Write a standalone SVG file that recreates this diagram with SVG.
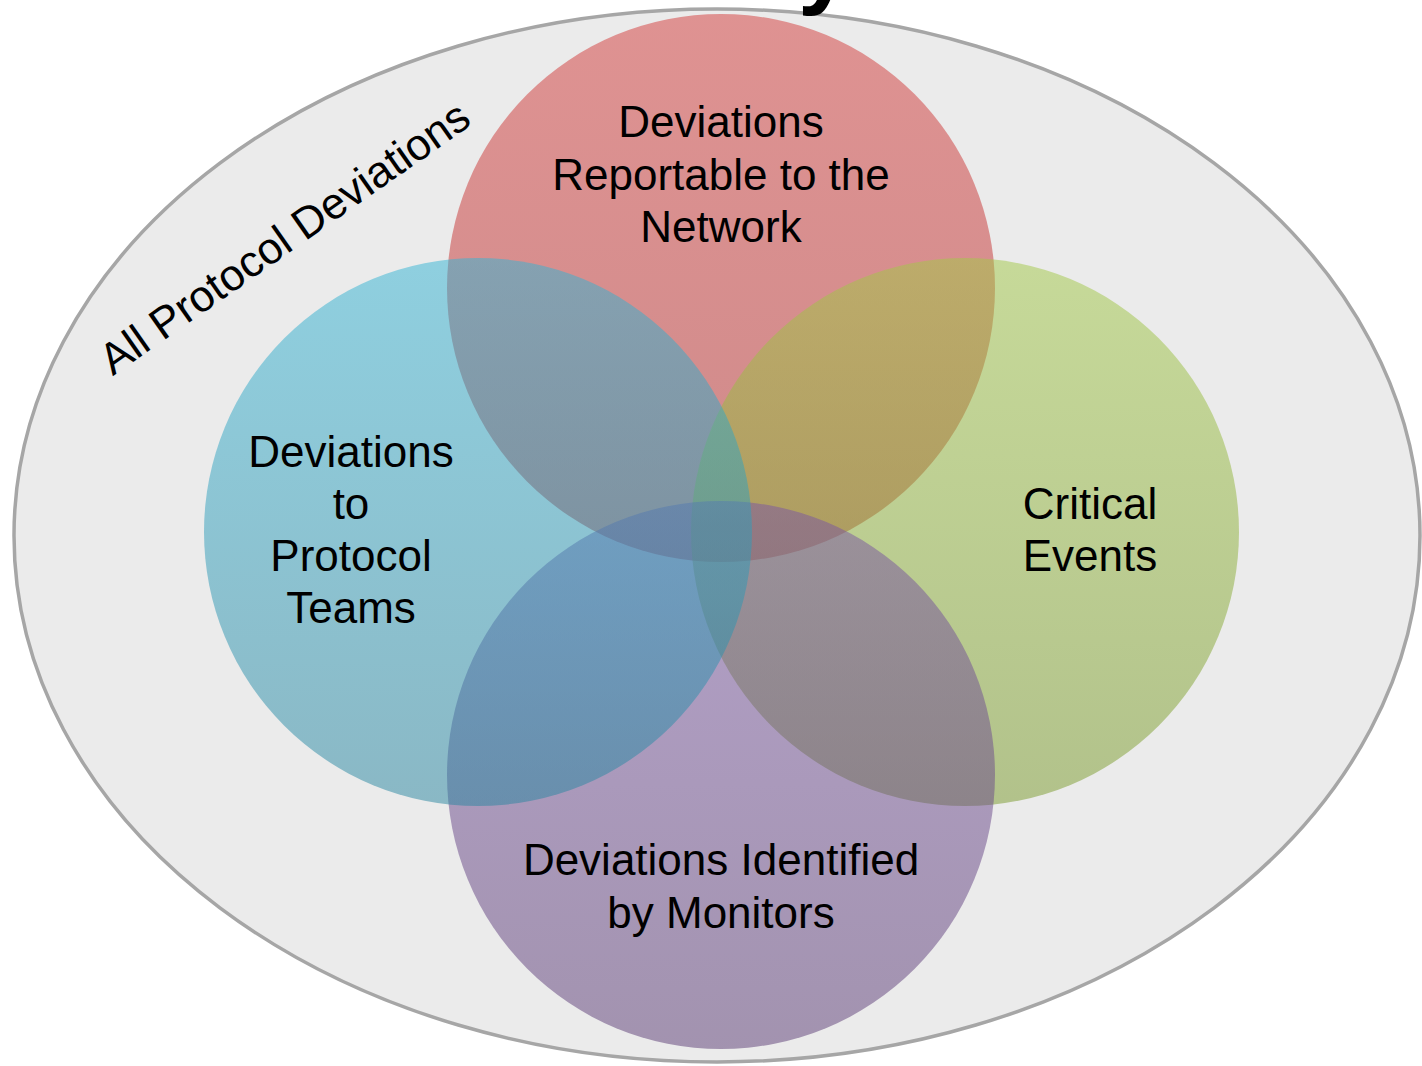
<svg xmlns="http://www.w3.org/2000/svg" width="1422" height="1066" viewBox="0 0 1422 1066">
  <defs>
    <linearGradient id="gRed" x1="0" y1="0" x2="0" y2="1">
      <stop offset="0" stop-color="#d33a39"/>
      <stop offset="1" stop-color="#b22a2a"/>
    </linearGradient>
    <linearGradient id="gBlue" x1="0" y1="0" x2="0" y2="1">
      <stop offset="0" stop-color="#33b4d4"/>
      <stop offset="1" stop-color="#29859f"/>
    </linearGradient>
    <linearGradient id="gGreen" x1="0" y1="0" x2="0" y2="1">
      <stop offset="0" stop-color="#a2c847"/>
      <stop offset="1" stop-color="#79992b"/>
    </linearGradient>
    <linearGradient id="gPurple" x1="0" y1="0" x2="0" y2="1">
      <stop offset="0" stop-color="#7a55a4"/>
      <stop offset="1" stop-color="#5a3b74"/>
    </linearGradient>
    <style>
      .set { fill-opacity: 0.5; stroke: none; }
      .lbl { font-family: "Liberation Sans", Arial, sans-serif; font-size: 44px; fill: #000; text-anchor: middle; }
      .outer { fill: #ebebeb; stroke: #a6a6a6; stroke-width: 3.5; }
    </style>
  </defs>

  <rect width="1422" height="1066" fill="#ffffff"/>

  <!-- enclosing set -->
  <g id="all-deviations">
    <ellipse class="outer" cx="717" cy="535.5" rx="703" ry="526.5"/>
    <text class="lbl" font-size="40" transform="translate(293 250) rotate(-35)">All Protocol Deviations</text>
  </g>

  <!-- title descender peeking in at the top edge -->
  <text x="798" y="-4" font-family="Liberation Sans, Arial, sans-serif" font-weight="bold" font-size="96" fill="#000">y</text>

  <g id="reportable">
    <circle class="set" cx="721" cy="288" r="274" fill="url(#gRed)"/>
  </g>
  <g id="critical">
    <circle class="set" cx="965" cy="532" r="274" fill="url(#gGreen)"/>
  </g>
  <g id="monitors">
    <circle class="set" cx="721" cy="775" r="274" fill="url(#gPurple)"/>
  </g>
  <g id="protocol-teams">
    <circle class="set" cx="478" cy="532" r="274" fill="url(#gBlue)"/>
  </g>

  <!-- labels -->
  <g id="labels">
    <text class="lbl" x="721" y="137">Deviations</text>
    <text class="lbl" x="721" y="190">Reportable to the</text>
    <text class="lbl" x="721" y="242">Network</text>

    <text class="lbl" x="351" y="467">Deviations</text>
    <text class="lbl" x="351" y="519">to</text>
    <text class="lbl" x="351" y="571">Protocol</text>
    <text class="lbl" x="351" y="623">Teams</text>

    <text class="lbl" x="1090" y="519">Critical</text>
    <text class="lbl" x="1090" y="571">Events</text>

    <text class="lbl" x="721" y="875">Deviations Identified</text>
    <text class="lbl" x="721" y="928">by Monitors</text>
  </g>

  <g id="connectors"/>
</svg>
